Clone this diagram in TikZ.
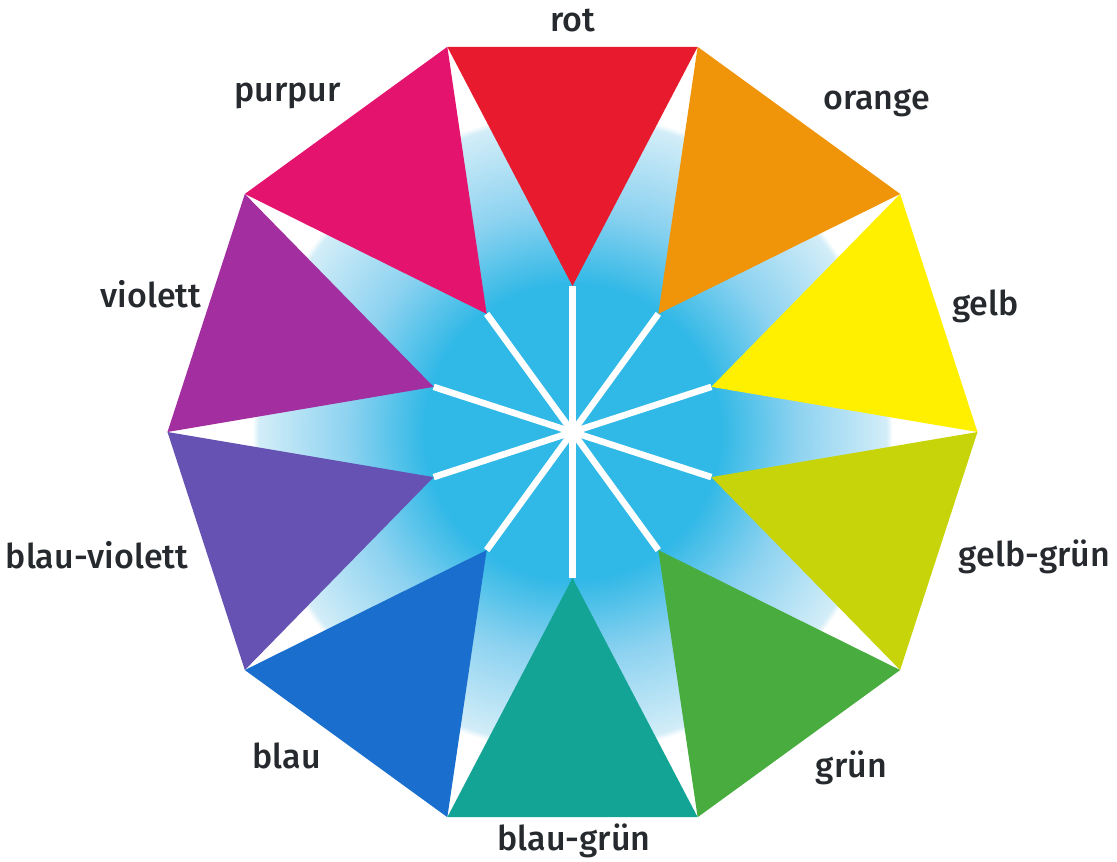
\documentclass[tikz,border=0pt]{standalone}
\usepackage{fontspec}
\setmainfont{Fira Sans}
\newfontfamily\labfont{Fira Sans Medium}
\usetikzlibrary{calc}

\definecolor{rotc}{RGB}{232,26,46}
\definecolor{orangec}{RGB}{240,148,10}
\definecolor{gelbc}{RGB}{255,240,0}
\definecolor{gelbgruenc}{RGB}{200,212,10}
\definecolor{gruenc}{RGB}{72,172,62}
\definecolor{blaugruenc}{RGB}{20,164,150}
\definecolor{blauc}{RGB}{26,110,206}
\definecolor{blauviolettc}{RGB}{102,82,178}
\definecolor{violettc}{RGB}{162,46,160}
\definecolor{purpurc}{RGB}{228,20,110}
\definecolor{cyanfull}{RGB}{48,184,230}
\definecolor{cyanmid}{RGB}{140,210,240}
\definecolor{cyanpale}{RGB}{210,237,248}
\definecolor{labtext}{RGB}{38,42,46}

\pgfdeclareradialshading{glow}{\pgfpoint{0bp}{0bp}}{%
  color(0bp)=(cyanfull); color(11.5bp)=(cyanfull); color(17.5bp)=(cyanmid);
  color(24.5bp)=(cyanpale); color(25bp)=(white); color(50bp)=(white)}

\begin{document}
\begin{tikzpicture}[x=1pt,y=1pt,
  lab/.style={font=\labfont\fontsize{34}{40}\selectfont,text=labtext,anchor=base,inner sep=0pt},
  spoke/.style={draw=white,line width=6.5pt}]
\useasboundingbox (-572.5,-430) rectangle (544.5,432);
\coordinate (c) at (0,0);
\foreach \i in {0,...,9}{
  \coordinate (v\i) at ({36*\i}:405);
  \coordinate (t\i) at ({36*\i+18}:146);
}
% star background
\begin{scope}
  \clip (v0) \foreach \i in {1,...,9}{ -- (v\i)} -- cycle;
  \shade[shading=glow] (c) circle (320);
\end{scope}
\foreach \i in {0,...,9}
  \draw[spoke] (c) -- (t\i);
\fill[white] (c) circle (8);
% colour triangles
\foreach \a/\b/\col in {0/1/gelbc,1/2/orangec,2/3/rotc,3/4/purpurc,4/5/violettc,
    5/6/blauviolettc,6/7/blauc,7/8/blaugruenc,8/9/gruenc,9/0/gelbgruenc}
  \fill[\col] (v\a) -- (v\b) -- (t\a) -- cycle;
% labels
\node[lab] (l2) at (0,400) {rot};
\node[lab] (l1) at (304,322) {orange};
\node[lab] (l0) at (413,116) {gelb};
\node[lab] (l9) at (462,-135) {gelb-grün};
\node[lab] (l8) at (279,-345) {grün};
\node[lab] (l7) at (1.5,-418) {blau-grün};
\node[lab] (l6) at (-286,-336) {blau};
\node[lab] (l5) at (-475.5,-136) {blau-violett};
\node[lab] (l4) at (-421.5,124) {violett};
\node[lab] (l3) at (-285,330) {purpur};
\end{tikzpicture}
\end{document}
